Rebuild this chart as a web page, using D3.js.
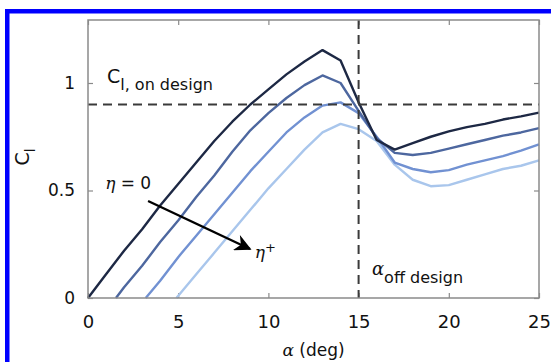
<!DOCTYPE html>
<html lang="en">
<head>
<meta charset="UTF-8">
<script src="https://cdn.jsdelivr.net/npm/d3@7"></script>
<style>
  body { margin: 0; background: #fff; }
  svg { display: block; }
</style>
</head>
<body>
<div id="chart"></div>
<script>
// ---- data ----
const alphaTicks = [0, 5, 10, 15, 20, 25];
const clTicks = [0, 0.5, 1];
const clOnDesign = 0.9;
const alphaOffDesign = 15;

const alpha1 = d3.range(0, 26);
const cl1 = [0, 0.11, 0.22, 0.32, 0.43, 0.53, 0.63, 0.73, 0.82, 0.90, 0.97, 1.04, 1.10, 1.153, 1.105,
             0.91, 0.735, 0.69, 0.72, 0.75, 0.775, 0.795, 0.81, 0.83, 0.845, 0.862];
const alpha2 = [1.55].concat(d3.range(2, 26));
const cl2 = [0, 0.05, 0.15, 0.26, 0.36, 0.47, 0.57, 0.68, 0.78, 0.86, 0.93, 0.99, 1.035, 1.0,
             0.87, 0.745, 0.675, 0.665, 0.675, 0.695, 0.715, 0.735, 0.755, 0.77, 0.79];
const alpha3 = [3.2].concat(d3.range(4, 26));
const cl3 = [0, 0.08, 0.19, 0.29, 0.39, 0.49, 0.59, 0.68, 0.77, 0.84, 0.895, 0.91, 0.86, 0.75,
             0.63, 0.6, 0.585, 0.595, 0.62, 0.64, 0.66, 0.685, 0.715];
const alpha4 = [4.9].concat(d3.range(6, 26));
const cl4 = [0, 0.11, 0.21, 0.31, 0.41, 0.51, 0.6, 0.69, 0.77, 0.81, 0.785, 0.73, 0.62, 0.55,
             0.52, 0.525, 0.55, 0.575, 0.6, 0.615, 0.64];
const seriesColors = ["#1d2844", "#4d679f", "#7191d2", "#a9c6ec"];

// arrow from eta = 0 towards eta+
const arrowFrom = [3.33, 0.451];
const arrowTo = [8.98, 0.228];

// ---- setup ----
const width = 551, height = 362;
const margin = { top: 20, right: 12, bottom: 64, left: 88 };
const innerW = width - margin.left - margin.right;
const innerH = height - margin.top - margin.bottom;

const svg = d3.select("#chart").append("svg")
    .attr("width", width)
    .attr("height", height);

// blue border (top & left)
svg.append("rect").attr("x", 5).attr("y", 9).attr("width", width - 5).attr("height", 4.5).attr("fill", "#0000ff");
svg.append("rect").attr("x", 5).attr("y", 9).attr("width", 4.5).attr("height", height - 9).attr("fill", "#0000ff");

const g = svg.append("g").attr("transform", `translate(${margin.left},${margin.top})`);

const x = d3.scaleLinear().domain([0, 25]).range([0, innerW]);
const y = d3.scaleLinear().domain([0, 1.293]).range([innerH, 0]);

const axisColor = "#8a8a8a";
const tickFont = "'DejaVu Sans', sans-serif";

// axes frame and inward ticks
function styleAxis(sel) {
    sel.select(".domain").remove();
    sel.selectAll(".tick line").attr("stroke", axisColor).attr("stroke-width", 1.2);
    sel.selectAll(".tick text").attr("fill", "#111").style("font-family", tickFont);
}
g.append("g").attr("transform", `translate(0,${innerH})`)
    .call(d3.axisBottom(x).tickValues(alphaTicks).tickSize(-5).tickPadding(17))
    .call(styleAxis)
    .selectAll(".tick text").style("font-size", "18px");
g.append("g")
    .call(d3.axisTop(x).tickValues(alphaTicks).tickSize(-5).tickFormat(""))
    .call(styleAxis);
g.append("g")
    .call(d3.axisLeft(y).tickValues(clTicks).tickSize(-5).tickPadding(13).tickFormat(d3.format("~g")))
    .call(styleAxis)
    .selectAll(".tick text").style("font-size", "17px");
g.append("g").attr("transform", `translate(${innerW},0)`)
    .call(d3.axisRight(y).tickValues(clTicks).tickSize(-5).tickFormat(""))
    .call(styleAxis);

// series lines
const line = d3.line().x(d => x(d[0])).y(d => y(d[1]));
const series = [[alpha1, cl1], [alpha2, cl2], [alpha3, cl3], [alpha4, cl4]];
series.slice().reverse().forEach((s, i) => {
    const idx = series.length - 1 - i;
    g.append("path")
        .datum(d3.zip(s[0], s[1]))
        .attr("fill", "none")
        .attr("stroke", seriesColors[idx])
        .attr("stroke-width", 2.4)
        .attr("stroke-linejoin", "round")
        .attr("d", line);
});

// dashed reference lines
g.append("line")
    .attr("x1", x(0)).attr("x2", x(25))
    .attr("y1", y(clOnDesign)).attr("y2", y(clOnDesign))
    .attr("stroke", "#3a3a3a").attr("stroke-width", 2).attr("stroke-dasharray", "9,6");
g.append("line")
    .attr("x1", x(alphaOffDesign)).attr("x2", x(alphaOffDesign))
    .attr("y1", y.range()[1]).attr("y2", y(0))
    .attr("stroke", "#3a3a3a").attr("stroke-width", 2).attr("stroke-dasharray", "9,6");

// frame
g.append("rect").attr("width", innerW).attr("height", innerH)
    .attr("fill", "none").attr("stroke", axisColor).attr("stroke-width", 1.5);

// arrow
svg.append("defs").append("marker")
    .attr("id", "head").attr("viewBox", "0 0 10 10")
    .attr("refX", 9).attr("refY", 5)
    .attr("markerWidth", 9).attr("markerHeight", 7)
    .attr("markerUnits", "strokeWidth")
    .attr("orient", "auto")
    .append("path").attr("d", "M0,0 L10,5 L0,10 L3,5 Z").attr("fill", "#000");
g.append("line")
    .attr("x1", x(arrowFrom[0])).attr("y1", y(arrowFrom[1]))
    .attr("x2", x(arrowTo[0])).attr("y2", y(arrowTo[1]))
    .attr("stroke", "#000").attr("stroke-width", 2.4)
    .attr("marker-end", "url(#head)");

// annotations
const sans = "'DejaVu Sans', sans-serif";
const serif = "'DejaVu Serif', serif";

const t1 = g.append("text").attr("x", x(1.05)).attr("y", y(1.0))
    .style("font-family", sans).attr("fill", "#111");
t1.append("tspan").style("font-size", "19px").text("C");
t1.append("tspan").attr("dy", 7).style("font-size", "16px").text("l, on design");

const t2 = g.append("text").attr("x", x(0.95)).attr("y", y(0.507))
    .style("font-family", sans).style("font-size", "17px").attr("fill", "#111");
t2.append("tspan").style("font-family", serif).style("font-style", "italic").text("η");
t2.append("tspan").text(" = 0");

const t3 = g.append("text").attr("x", x(9.25)).attr("y", y(0.186))
    .style("font-family", sans).style("font-size", "17px").attr("fill", "#111");
t3.append("tspan").style("font-family", serif).style("font-style", "italic").text("η");
t3.append("tspan").attr("dy", -6).style("font-size", "13px").text("+");

const t4 = g.append("text").attr("x", x(15.74)).attr("y", y(0.107))
    .style("font-family", sans).attr("fill", "#111");
t4.append("tspan").style("font-family", serif).style("font-style", "italic").style("font-size", "18px").text("α");
t4.append("tspan").attr("dy", 8).style("font-size", "16px").text("off design");

// axis labels
const xl = svg.append("text")
    .attr("x", margin.left + innerW / 2).attr("y", 356)
    .attr("text-anchor", "middle")
    .style("font-family", sans).style("font-size", "17px").attr("fill", "#111");
xl.append("tspan").style("font-family", serif).style("font-style", "italic").text("α");
xl.append("tspan").text(" (deg)");

const yl = svg.append("text")
    .attr("transform", `translate(29,157) rotate(-90)`)
    .attr("text-anchor", "middle")
    .style("font-family", sans).attr("fill", "#111");
yl.append("tspan").style("font-size", "19px").text("C");
yl.append("tspan").attr("dy", 6).style("font-size", "14px").text("l");
</script>
</body>
</html>
